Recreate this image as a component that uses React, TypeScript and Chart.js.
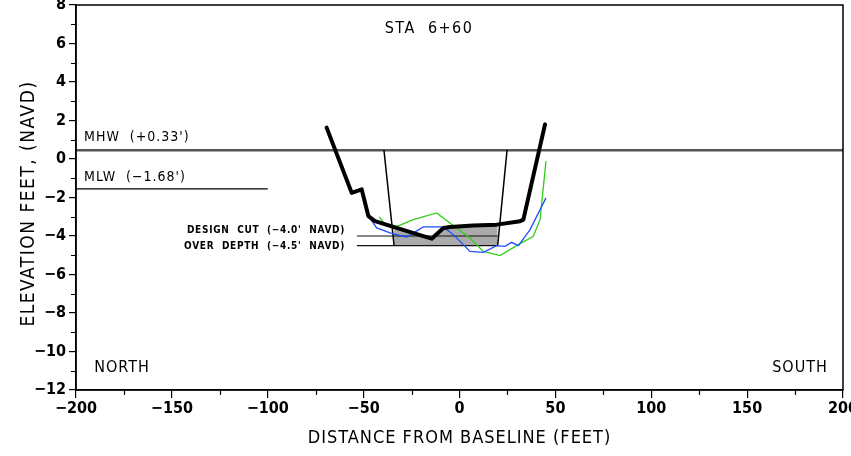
import React, { useEffect, useRef } from "react";
import { Chart, registerables } from "chart.js";

Chart.register(...registerables);

// ---- data ----
const surveyX = [-69.3, -56.2, -51.0, -47.5, -44.1, -32.8, -18.9, -14.5, -8.4, -5.0, 7.2, 19.4, 31.6, 33.3, 44.6];
const surveyY = [1.63, -1.76, -1.58, -2.97, -3.23, -3.58, -4.01, -4.14, -3.58, -3.53, -3.46, -3.41, -3.23, -3.15, 1.8];

const greenX = [-41.8, -38.9, -35.4, -31.0, -24.1, -11.9, -5.0, 5.5, 12.4, 21.1, 30.7, 38.5, 42.0, 45.1];
const greenY = [-3.01, -3.4, -3.58, -3.44, -3.15, -2.8, -3.32, -4.1, -4.8, -5.02, -4.45, -4.01, -3.15, -0.11];

const blueX = [-47.5, -43.2, -36.2, -30.1, -27.5, -18.9, -8.4, -3.2, 5.5, 12.4, 19.4, 23.7, 27.2, 30.7, 36.8, 45.1];
const blueY = [-2.97, -3.58, -3.84, -4.0, -4.05, -3.53, -3.53, -3.93, -4.8, -4.85, -4.5, -4.54, -4.33, -4.5, -3.67, -2.02];

const templateX = [-34.1, -32.8, -18.9, -14.5, -8.4, -5.0, 7.2, 19.4, 19.9];
const templateY = [-3.54, -3.58, -4.01, -4.14, -3.58, -3.53, -3.46, -3.41, -3.4];

const leftSlopeX = [-39.4, -34.1];
const rightSlopeX = [24.8, 19.9];
const slopeY = [0.46, -4.5];

const mhwElev = 0.46;
const mlwElev = -1.55;
const mlwX = [-200, -100];
const designCutElev = -4.0;
const overDepthElev = -4.5;
const cutLineX = [-53.5, 19.9];

const xTicks = { min: -200, max: 200, major: 50, minor: 25 };
const yTicks = { min: -12, max: 8, major: 2, minor: 1 };

const labels = [
  { text: "STA  6+60", x: -39, y: 6.75, align: "left", size: 16, bold: false, sp: 1.5 },
  { text: "MHW  (+0.33')", x: -195.8, y: 1.13, align: "left", size: 14, bold: false, sp: 1 },
  { text: "MLW  (\u22121.68')", x: -195.8, y: -0.96, align: "left", size: 14, bold: false, sp: 1 },
  { text: "DESIGN  CUT  (\u22124.0'  NAVD)", x: -59.7, y: -3.72, align: "right", size: 10, bold: true, sp: 0.7 },
  { text: "OVER  DEPTH  (\u22124.5'  NAVD)", x: -59.7, y: -4.55, align: "right", size: 10, bold: true, sp: 0.7 },
  { text: "NORTH", x: -190.5, y: -10.85, align: "left", size: 16, bold: false, sp: 1 },
  { text: "SOUTH", x: 192.1, y: -10.85, align: "right", size: 16, bold: false, sp: 1 },
];

const xTitle = "DISTANCE FROM BASELINE (FEET)";
const yTitle = "ELEVATION FEET, (NAVD)";

const FONT = "'Liberation Sans Narrow', 'DejaVu Sans Condensed', 'Arial Narrow', 'Liberation Sans', sans-serif";

const pts = (xs: number[], ys: number[]) => xs.map((x, i) => ({ x, y: ys[i] }));
const fmt = (v: number) => (v < 0 ? "\u2212" + Math.abs(v) : String(v));

const decorPlugin = {
  id: "decor",
  afterDraw(chart: any) {
    const { ctx, chartArea, scales } = chart;
    const xs = scales.x;
    const ys = scales.y;
    ctx.save();
    // frame
    ctx.strokeStyle = "#000";
    ctx.lineWidth = 1.5;
    ctx.strokeRect(chartArea.left, chartArea.top, chartArea.right - chartArea.left, chartArea.bottom - chartArea.top);
    // minor ticks
    ctx.lineWidth = 1.2;
    ctx.beginPath();
    for (let v = xTicks.min; v <= xTicks.max; v += xTicks.minor) {
      if (v % xTicks.major === 0) continue;
      const px = Math.round(xs.getPixelForValue(v)) + 0.5;
      ctx.moveTo(px, chartArea.bottom);
      ctx.lineTo(px, chartArea.bottom + 5);
    }
    for (let v = yTicks.min; v <= yTicks.max; v += yTicks.minor) {
      if (v % yTicks.major === 0) continue;
      const py = Math.round(ys.getPixelForValue(v)) + 0.5;
      ctx.moveTo(chartArea.left, py);
      ctx.lineTo(chartArea.left - 5, py);
    }
    ctx.stroke();
    // annotations
    ctx.fillStyle = "#000";
    ctx.textBaseline = "middle";
    for (const l of labels) {
      ctx.font = `${l.bold ? "bold " : ""}${l.size}px ${FONT}`;
      (ctx as any).letterSpacing = `${l.sp}px`;
      ctx.textAlign = l.align as CanvasTextAlign;
      ctx.fillText(l.text, xs.getPixelForValue(l.x), ys.getPixelForValue(l.y));
    }
    // axis titles
    ctx.font = `18px ${FONT}`;
    (ctx as any).letterSpacing = "1px";
    ctx.textAlign = "center";
    ctx.fillText(xTitle, (chartArea.left + chartArea.right) / 2, 438);
    ctx.translate(29, (chartArea.top + chartArea.bottom) / 2 + 6);
    ctx.rotate(-Math.PI / 2);
    ctx.font = `19px ${FONT}`;
    (ctx as any).letterSpacing = "1.5px";
    ctx.fillText(yTitle, 0, 0);
    (ctx as any).letterSpacing = "0px";
    ctx.restore();
  },
};

export default function App() {
  const ref = useRef<HTMLCanvasElement | null>(null);
  useEffect(() => {
    if (!ref.current) return;
    const line = (data: any[], color: string, width: number, extra: any = {}) => ({
      type: "line",
      data,
      borderColor: color,
      borderWidth: width,
      pointRadius: 0,
      fill: false,
      tension: 0,
      ...extra,
    });
    const chart = new Chart(ref.current, {
      type: "line",
      data: {
        datasets: [
          line(pts(surveyX, surveyY), "#000", 4, { order: 0, borderJoinStyle: "round", borderCapStyle: "round" }),
          line(pts(blueX, blueY), "#1f4fff", 1.3, { order: 1 }),
          line(pts(greenX, greenY), "#33cc1a", 1.3, { order: 2 }),
          line(pts(leftSlopeX, slopeY), "#000", 1.5, { order: 3 }),
          line(pts(rightSlopeX, slopeY), "#000", 1.5, { order: 3 }),
          line(pts(cutLineX, [designCutElev, designCutElev]), "#111", 1.2, { order: 4 }),
          line(pts(cutLineX, [overDepthElev, overDepthElev]), "#111", 1.2, { order: 4 }),
          line(pts([xTicks.min, xTicks.max], [mhwElev, mhwElev]), "#555", 2.5, { order: 5 }),
          line(pts(mlwX, [mlwElev, mlwElev]), "#000", 1.2, { order: 5 }),
          line(pts(templateX, templateY), "rgba(0,0,0,0)", 0, {
            order: 10,
            fill: { value: overDepthElev },
            backgroundColor: "#aaaaaa",
          }),
        ] as any,
      },
      options: {
        responsive: false,
        animation: false,
        parsing: true,
        layout: { padding: { left: 0, right: 8, top: 5, bottom: 0 } },
        plugins: { legend: { display: false }, tooltip: { enabled: false }, title: { display: false } },
        scales: {
          x: {
            type: "linear",
            min: xTicks.min,
            max: xTicks.max,
            afterFit: (s: any) => {
              s.height = 66;
              s.paddingLeft = 0;
              s.paddingRight = 0;
            },
            afterBuildTicks: (s: any) => {
              const t = [];
              for (let v = xTicks.min; v <= xTicks.max; v += xTicks.major) t.push({ value: v });
              s.ticks = t;
            },
            ticks: {
              autoSkip: false,
              maxRotation: 0,
              padding: 1,
              color: "#000",
              font: { family: FONT, size: 16, weight: "bold" },
              callback: (v: any) => fmt(Number(v)),
            },
            grid: { drawOnChartArea: false, drawTicks: true, tickLength: 8, color: "#000", lineWidth: 1.2 },
            border: { display: true, color: "#000", width: 1.5 },
          },
          y: {
            type: "linear",
            min: yTicks.min,
            max: yTicks.max,
            afterFit: (s: any) => {
              s.width = 76;
              s.paddingTop = 0;
              s.paddingBottom = 0;
            },
            afterBuildTicks: (s: any) => {
              const t = [];
              for (let v = yTicks.min; v <= yTicks.max; v += yTicks.major) t.push({ value: v });
              s.ticks = t;
            },
            ticks: {
              autoSkip: false,
              padding: 3,
              color: "#000",
              font: { family: FONT, size: 16, weight: "bold" },
              callback: (v: any) => fmt(Number(v)),
            },
            grid: { drawOnChartArea: false, drawTicks: true, tickLength: 7, color: "#000", lineWidth: 1.2 },
            border: { display: true, color: "#000", width: 1.5 },
          },
        },
      } as any,
      plugins: [decorPlugin],
    });
    return () => chart.destroy();
  }, []);
  return (
    <div style={{ position: "absolute", left: 0, top: 0, width: 851, height: 456, background: "#fff" }}>
      <canvas ref={ref} width={851} height={456} style={{ display: "block" }} />
    </div>
  );
}
